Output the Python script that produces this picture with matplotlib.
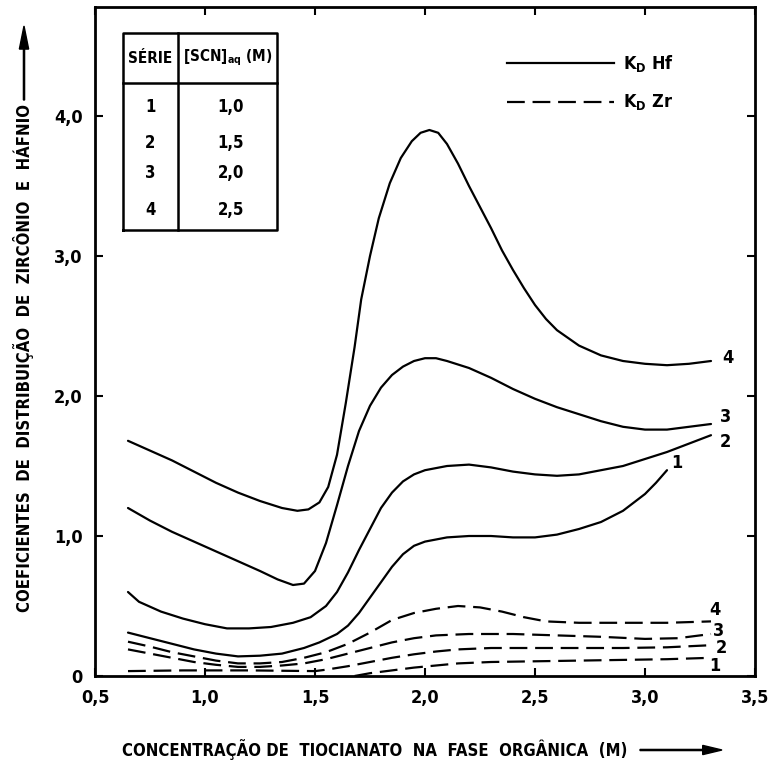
import matplotlib
matplotlib.use("Agg")
import matplotlib.pyplot as plt
from matplotlib.patches import FancyArrow

plt.rcParams['font.family'] = ['DejaVu Sans']
plt.rcParams['font.stretch'] = 'condensed'

# ---- data ----
hf4_x = [0.65, 0.75, 0.85, 0.95, 1.05, 1.15, 1.25, 1.35, 1.42, 1.47, 1.52, 1.56, 1.6, 1.64, 1.68, 1.71, 1.75, 1.79, 1.84, 1.89, 1.94, 1.98, 2.02, 2.06, 2.1, 2.15, 2.2, 2.25, 2.3, 2.35, 2.4, 2.45, 2.5, 2.55, 2.6, 2.7, 2.8, 2.9, 3.0, 3.1, 3.2, 3.3]
hf4_y = [1.68, 1.61, 1.54, 1.46, 1.38, 1.31, 1.25, 1.20, 1.18, 1.19, 1.24, 1.35, 1.58, 1.95, 2.35, 2.69, 3.0, 3.27, 3.52, 3.7, 3.82, 3.88, 3.9, 3.88, 3.8, 3.66, 3.5, 3.35, 3.2, 3.04, 2.9, 2.77, 2.65, 2.55, 2.47, 2.36, 2.29, 2.25, 2.23, 2.22, 2.23, 2.25]

hf3_x = [0.65, 0.75, 0.85, 0.95, 1.05, 1.15, 1.25, 1.33, 1.4, 1.45, 1.5, 1.55, 1.6, 1.65, 1.7, 1.75, 1.8, 1.85, 1.9, 1.95, 2.0, 2.05, 2.1, 2.2, 2.3, 2.4, 2.5, 2.6, 2.7, 2.8, 2.9, 3.0, 3.1, 3.2, 3.3]
hf3_y = [1.2, 1.11, 1.03, 0.96, 0.89, 0.82, 0.75, 0.69, 0.65, 0.66, 0.75, 0.95, 1.22, 1.5, 1.75, 1.93, 2.06, 2.15, 2.21, 2.25, 2.27, 2.27, 2.25, 2.2, 2.13, 2.05, 1.98, 1.92, 1.87, 1.82, 1.78, 1.76, 1.76, 1.78, 1.8]

hf2_x = [0.65, 0.7, 0.8, 0.9, 1.0, 1.1, 1.2, 1.3, 1.4, 1.48, 1.55, 1.6, 1.65, 1.7, 1.75, 1.8, 1.85, 1.9, 1.95, 2.0, 2.1, 2.2, 2.3, 2.4, 2.5, 2.6, 2.7, 2.8, 2.9, 3.0, 3.1, 3.2, 3.3]
hf2_y = [0.6, 0.53, 0.46, 0.41, 0.37, 0.34, 0.34, 0.35, 0.38, 0.42, 0.5, 0.6, 0.74, 0.9, 1.05, 1.2, 1.31, 1.39, 1.44, 1.47, 1.5, 1.51, 1.49, 1.46, 1.44, 1.43, 1.44, 1.47, 1.5, 1.55, 1.6, 1.66, 1.72]

hf1_x = [0.65, 0.75, 0.85, 0.95, 1.05, 1.15, 1.25, 1.35, 1.45, 1.52, 1.6, 1.65, 1.7, 1.75, 1.8, 1.85, 1.9, 1.95, 2.0, 2.1, 2.2, 2.3, 2.4, 2.5, 2.6, 2.7, 2.8, 2.9, 3.0, 3.05, 3.1]
hf1_y = [0.31, 0.27, 0.23, 0.19, 0.16, 0.14, 0.145, 0.16, 0.2, 0.24, 0.3, 0.36, 0.45, 0.56, 0.67, 0.78, 0.87, 0.93, 0.96, 0.99, 1.0, 1.0, 0.99, 0.99, 1.01, 1.05, 1.1, 1.18, 1.3, 1.38, 1.47]

zr4_x = [0.65, 0.75, 0.85, 0.95, 1.05, 1.15, 1.25, 1.35, 1.45, 1.55, 1.65, 1.75, 1.85, 1.95, 2.05, 2.15, 2.25, 2.35, 2.45, 2.55, 2.7, 2.9, 3.1, 3.3]
zr4_y = [0.245, 0.21, 0.17, 0.14, 0.11, 0.09, 0.09, 0.10, 0.13, 0.17, 0.23, 0.31, 0.40, 0.45, 0.48, 0.50, 0.49, 0.46, 0.42, 0.39, 0.38, 0.38, 0.38, 0.39]

zr3_x = [0.65, 0.75, 0.85, 0.95, 1.05, 1.15, 1.25, 1.35, 1.45, 1.55, 1.65, 1.75, 1.85, 1.95, 2.05, 2.2, 2.4, 2.6, 2.8, 3.0, 3.15, 3.3]
zr3_y = [0.19, 0.16, 0.13, 0.10, 0.08, 0.065, 0.065, 0.075, 0.09, 0.12, 0.16, 0.2, 0.24, 0.27, 0.29, 0.3, 0.3, 0.29, 0.28, 0.265, 0.27, 0.3]

zr2_x = [0.65, 0.9, 1.2, 1.5, 1.55, 1.65, 1.75, 1.85, 1.95, 2.05, 2.15, 2.3, 2.5, 2.7, 2.9, 3.1, 3.3]
zr2_y = [0.035, 0.04, 0.04, 0.035, 0.045, 0.07, 0.10, 0.13, 0.155, 0.175, 0.19, 0.2, 0.2, 0.2, 0.2, 0.205, 0.22]

zr1_x = [1.68, 1.75, 1.85, 1.95, 2.05, 2.15, 2.3, 2.5, 2.7, 2.9, 3.1, 3.3]
zr1_y = [0.0, 0.02, 0.04, 0.06, 0.075, 0.09, 0.1, 0.105, 0.11, 0.115, 0.12, 0.13]

series_labels = ['1', '2', '3', '4']
scn_values = ['1,0', '1,5', '2,0', '2,5']
x_ticks = [0.5, 1.0, 1.5, 2.0, 2.5, 3.0, 3.5]
x_ticklabels = ['0,5', '1,0', '1,5', '2,0', '2,5', '3,0', '3,5']
y_ticks = [0, 1.0, 2.0, 3.0, 4.0]
y_ticklabels = ['0', '1,0', '2,0', '3,0', '4,0']

# ---- figure ----
fig = plt.figure(figsize=(7.72, 7.69), dpi=100)
ax = fig.add_axes([95/772, 1-676/769, 660/772, 669/769])
ax.set_xlim(0.5, 3.5)
ax.set_ylim(0, 669/140)

lw = 1.6
dash = (0, (8, 3.5))
for xs, ys in [(hf4_x, hf4_y), (hf3_x, hf3_y), (hf2_x, hf2_y), (hf1_x, hf1_y)]:
    ax.plot(xs, ys, color='black', lw=lw, solid_joinstyle='round', solid_capstyle='round')
for xs, ys in [(zr4_x, zr4_y), (zr3_x, zr3_y), (zr2_x, zr2_y), (zr1_x, zr1_y)]:
    ax.plot(xs, ys, color='black', lw=lw, linestyle=dash)

fk = dict(fontsize=13, fontweight='bold', color='black')
# curve end labels
ax.text(hf4_x[-1] + 0.05, hf4_y[-1] + 0.02, '4', ha='left', va='center', **fk)
ax.text(hf3_x[-1] + 0.04, hf3_y[-1] + 0.05, '3', ha='left', va='center', **fk)
ax.text(hf2_x[-1] + 0.04, hf2_y[-1] - 0.05, '2', ha='left', va='center', **fk)
ax.text(hf1_x[-1] + 0.02, hf1_y[-1] + 0.05, '1', ha='left', va='center', **fk)
ax.text(zr4_x[-1] - 0.01, zr4_y[-1] + 0.08, '4', ha='left', va='center', **fk)
ax.text(zr3_x[-1] + 0.01, zr3_y[-1] + 0.02, '3', ha='left', va='center', **fk)
ax.text(zr2_x[-1] + 0.02, zr2_y[-1] - 0.02, '2', ha='left', va='center', **fk)
ax.text(zr1_x[-1] - 0.01, zr1_y[-1] - 0.06, '1', ha='left', va='center', **fk)

# ticks
ax.set_xticks(x_ticks)
ax.set_xticklabels(x_ticklabels)
ax.set_yticks(y_ticks)
ax.set_yticklabels(y_ticklabels)
ax.tick_params(direction='in', length=6, width=1.5, top=True, right=True,
               labelsize=13, pad=9)
for lab in ax.get_xticklabels() + ax.get_yticklabels():
    lab.set_fontweight('bold')
for sp in ax.spines.values():
    sp.set_linewidth(2)

# table
tl, tr, tt, tb = 0.042, 0.276, 0.961, 0.667
tdiv, thead = 0.126, 0.886
T = ax.transAxes
kw = dict(transform=T, color='black', lw=1.8)
ax.plot([tl, tr, tr, tl, tl], [tb, tb, tt, tt, tb], **kw)
ax.plot([tdiv, tdiv], [tb, tt], **kw)
ax.plot([tl, tr], [thead, thead], **kw)
ax.text((tl + tdiv) / 2, (tt + thead) / 2, 'SÉRIE', transform=T, ha='center', va='center', fontsize=11, fontweight='bold')
ax.text((tdiv + tr) / 2, (tt + thead) / 2, r'[SCN]$_{\mathbf{aq}}$ (M)', transform=T, ha='center', va='center', fontsize=11, fontweight='bold')
row_y = [0.851, 0.797, 0.752, 0.697]
for s, v, yy in zip(series_labels, scn_values, row_y):
    ax.text((tl + tdiv) / 2, yy, s, transform=T, ha='center', va='center', fontsize=12, fontweight='bold')
    ax.text((tdiv + tr) / 2 + 0.005, yy, v, transform=T, ha='center', va='center', fontsize=12, fontweight='bold')

# legend
ax.plot([0.624, 0.786], [0.916, 0.916], transform=T, color='black', lw=lw)
ax.plot([0.624, 0.786], [0.858, 0.858], transform=T, color='black', lw=lw, linestyle=dash)
ax.text(0.80, 0.916, r'K$_{\mathbf{D}}$ Hf', transform=T, ha='left', va='center', fontsize=13, fontweight='bold')
ax.text(0.80, 0.858, r'K$_{\mathbf{D}}$ Zr', transform=T, ha='left', va='center', fontsize=13, fontweight='bold')

# axis titles with arrows
fig.text(375/772, 1 - 750/769, 'CONCENTRAÇÃO DE  TIOCIANATO  NA  FASE  ORGÂNICA  (M)',
         ha='center', va='center', fontsize=12, fontweight='bold')
fig.add_artist(FancyArrow(640/772, 1 - 750/769, 82/772, 0, width=0.0015,
                          head_width=0.012, head_length=0.025, length_includes_head=True,
                          color='black', transform=fig.transFigure))
fig.text(24/772, 1 - 358/769, 'COEFICIENTES  DE  DISTRIBUIÇÃO  DE  ZIRCÔNIO  E  HÁFNIO',
         rotation=90, ha='center', va='center', fontsize=12, fontweight='bold')
fig.add_artist(FancyArrow(24/772, 1 - 100/769, 0, 74/769, width=0.0015,
                          head_width=0.012, head_length=0.03, length_includes_head=True,
                          color='black', transform=fig.transFigure))

fig.savefig('out.png', dpi=100)
